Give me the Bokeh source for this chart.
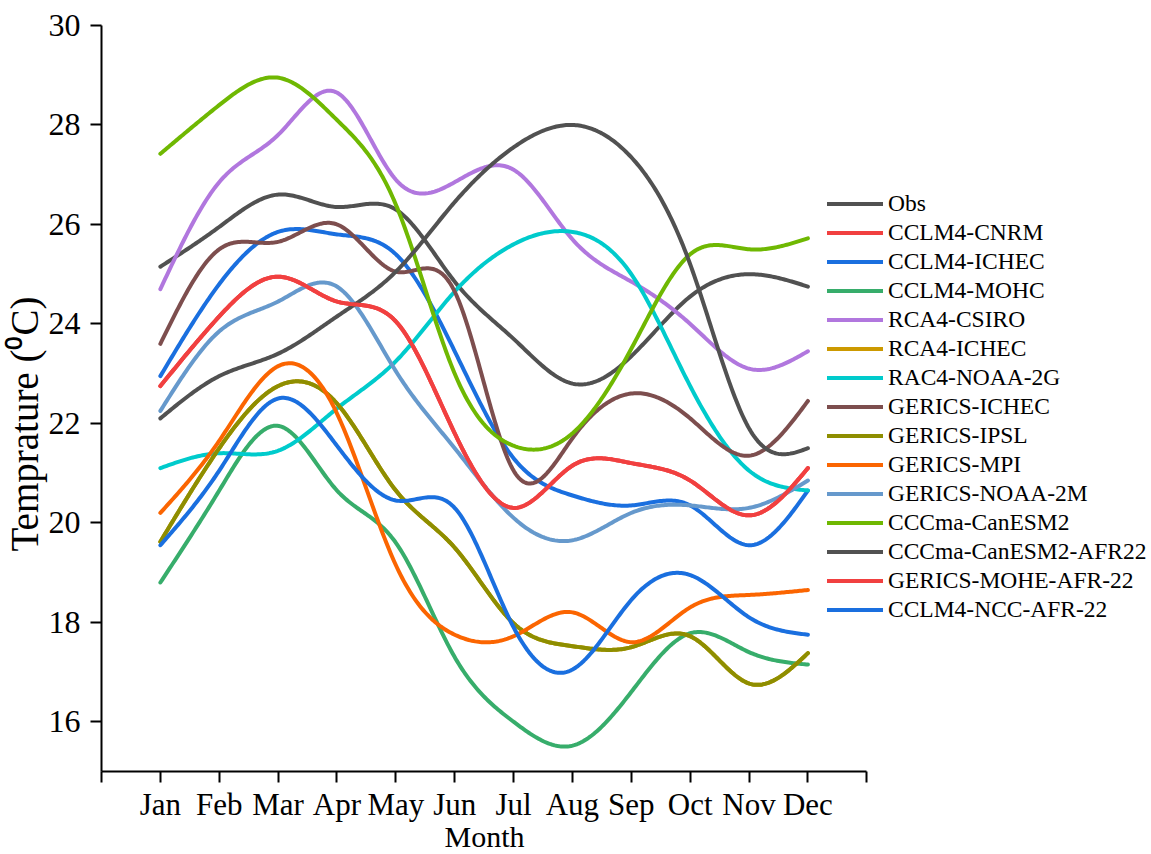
import numpy as np
from bokeh.plotting import figure
from bokeh.models import Legend, LegendItem, FixedTicker, Title
from bokeh.embed import file_html
from bokeh.resources import INLINE

# Monthly mean temperature (degC), observed and simulated by the RCMs
months = ["Jan", "Feb", "Mar", "Apr", "May", "Jun",
          "Jul", "Aug", "Sep", "Oct", "Nov", "Dec"]

obs = [25.15, 25.95, 26.6, 26.35, 26.3, 24.85, 23.7, 22.8, 23.35, 24.55, 25.0, 24.75]
cclm4_cnrm = [22.75, 24.15, 24.95, 24.45, 24.05, 21.8, 20.3, 21.15, 21.2, 20.85, 20.15, 21.1]
cclm4_ichec = [22.95, 24.8, 25.85, 25.8, 25.4, 23.45, 21.3, 20.55, 20.35, 20.35, 19.55, 20.65]
cclm4_mohc = [18.8, 20.65, 21.95, 20.65, 19.6, 17.3, 16.0, 15.52, 16.6, 17.78, 17.4, 17.15]
rca4_csiro = [24.7, 26.85, 27.8, 28.65, 26.9, 26.85, 27.1, 25.7, 24.85, 24.0, 23.1, 23.45]
rca4_ichec = [19.62, 21.5, 22.75, 22.4, 20.65, 19.5, 17.98, 17.52, 17.5, 17.72, 16.77, 17.38]
rac4_noaa_2g = [21.1, 21.4, 21.45, 22.3, 23.25, 24.65, 25.6, 25.85, 25.0, 22.75, 21.05, 20.65]
gerics_ichec = [23.6, 25.5, 25.65, 26.0, 25.05, 24.65, 21.05, 21.7, 22.6, 22.1, 21.35, 22.45]
gerics_ipsl = [19.62, 21.5, 22.75, 22.4, 20.65, 19.5, 17.98, 17.52, 17.5, 17.72, 16.77, 17.38]
gerics_mpi = [20.2, 21.65, 23.15, 22.2, 19.15, 17.75, 17.72, 18.2, 17.6, 18.3, 18.55, 18.65]
gerics_noaa_2m = [22.25, 23.85, 24.45, 24.75, 23.05, 21.5, 20.1, 19.65, 20.2, 20.35, 20.3, 20.85]
cccma_canesm2 = [27.42, 28.4, 28.95, 28.1, 26.4, 23.0, 21.55, 21.8, 23.5, 25.4, 25.5, 25.72]
cccma_canesm2_afr22 = [22.1, 22.95, 23.4, 24.15, 25.05, 26.45, 27.55, 28.0, 27.35, 25.2, 21.9, 21.5]
gerics_mohe_afr22 = [22.75, 24.15, 24.95, 24.45, 24.05, 21.8, 20.3, 21.15, 21.2, 20.85, 20.15, 21.1]
cclm4_ncc_afr22 = [19.55, 21.05, 22.5, 21.55, 20.45, 20.3, 17.9, 17.05, 18.45, 18.95, 18.1, 17.75]

series_names = ["Obs", "CCLM4-CNRM", "CCLM4-ICHEC", "CCLM4-MOHC", "RCA4-CSIRO",
                "RCA4-ICHEC", "RAC4-NOAA-2G", "GERICS-ICHEC", "GERICS-IPSL",
                "GERICS-MPI", "GERICS-NOAA-2M", "CCCma-CanESM2",
                "CCCma-CanESM2-AFR22", "GERICS-MOHE-AFR-22", "CCLM4-NCC-AFR-22"]
series_values = [obs, cclm4_cnrm, cclm4_ichec, cclm4_mohc, rca4_csiro,
                 rca4_ichec, rac4_noaa_2g, gerics_ichec, gerics_ipsl,
                 gerics_mpi, gerics_noaa_2m, cccma_canesm2,
                 cccma_canesm2_afr22, gerics_mohe_afr22, cclm4_ncc_afr22]
series_colors = ["#515151", "#F14040", "#1A6FDF", "#37AD6B", "#B177DE",
                 "#CC9900", "#00CBCC", "#7D4E4E", "#8E8E00", "#FB6501",
                 "#6699CC", "#6FB802", "#515151", "#F14040", "#1A6FDF"]


def natural_spline(xk, yk, n=400):
    """Natural cubic spline through the knots, evaluated on a fine grid."""
    xk = np.asarray(xk, float)
    yk = np.asarray(yk, float)
    m = len(xk)
    h = np.diff(xk)
    A = np.zeros((m, m))
    r = np.zeros(m)
    A[0, 0] = A[-1, -1] = 1.0
    for i in range(1, m - 1):
        A[i, i - 1] = h[i - 1]
        A[i, i] = 2 * (h[i - 1] + h[i])
        A[i, i + 1] = h[i]
        r[i] = 6 * ((yk[i + 1] - yk[i]) / h[i] - (yk[i] - yk[i - 1]) / h[i - 1])
    M = np.linalg.solve(A, r)
    xs = np.linspace(xk[0], xk[-1], n)
    idx = np.clip(np.searchsorted(xk, xs) - 1, 0, m - 2)
    x0, x1 = xk[idx], xk[idx + 1]
    hh = x1 - x0
    a = (x1 - xs) / hh
    b = (xs - x0) / hh
    ys = (a * yk[idx] + b * yk[idx + 1]
          + ((a ** 3 - a) * M[idx] + (b ** 3 - b) * M[idx + 1]) * hh ** 2 / 6)
    return xs, ys


month_pos = list(range(1, 13))
FONT = "Liberation Serif"

# The plotting frame runs to the right edge so the legend can sit beside
# the curves; the x axis itself is bounded to months 0..13.
W, H = 1151, 854
LEFT, BOTTOM, TOP = 100, 83, 25
AXIS_END_PX = 866
x_end = 13 * (W - LEFT) / (AXIS_END_PX - LEFT)

p = figure(width=W, height=H, x_range=(0, x_end), y_range=(15, 30),
           output_backend="svg", toolbar_location=None,
           min_border_left=LEFT, min_border_right=0,
           min_border_top=TOP, min_border_bottom=BOTTOM)
p.outline_line_color = None
p.xgrid.visible = False
p.ygrid.visible = False
p.background_fill_color = "white"
p.border_fill_color = "white"

items = []
for name, vals, col in zip(series_names, series_values, series_colors):
    xs, ys = natural_spline(month_pos, vals)
    r = p.line(xs, ys, line_color=col, line_width=4, line_cap="round",
               line_join="round")
    items.append(LegendItem(label=name, renderers=[r]))

# axes
for ax in (p.xaxis[0], p.yaxis[0]):
    ax.axis_line_width = 2
    ax.axis_line_color = "black"
    ax.major_tick_line_width = 2
    ax.major_tick_line_color = "black"
    ax.major_tick_in = 0
    ax.major_tick_out = 11
    ax.minor_tick_line_color = None
    ax.major_label_text_font = FONT
    ax.major_label_text_color = "black"

p.xaxis.bounds = (0, 13)
p.xaxis.ticker = FixedTicker(ticks=list(range(0, 14)))
overrides = {0: "", 13: ""}
for i, m in enumerate(months, start=1):
    overrides[i] = m
p.xaxis.major_label_overrides = overrides
p.xaxis.major_label_text_font_size = "31px"
p.xaxis.major_label_standoff = 4

p.yaxis.ticker = FixedTicker(ticks=list(range(16, 31, 2)))
p.yaxis.major_label_text_font_size = "32px"
p.yaxis.major_label_standoff = 10

# axis titles, positioned along the bounded axes
x_title = Title(text="Month", align="left", offset=343,
                vertical_align="top", standoff=-10,
                text_font=FONT, text_font_size="30px",
                text_font_style="normal", text_color="black")
p.add_layout(x_title, "below")

y_title = Title(text="Temprature (\u2070C)", align="left", offset=220,
                vertical_align="bottom", standoff=0,
                text_font=FONT, text_font_size="39px",
                text_font_style="normal", text_color="black")
p.add_layout(y_title, "left")

legend = Legend(items=items, location=(726, 148),
                glyph_width=56, glyph_height=27, label_height=27,
                label_width=10, spacing=2, padding=0, margin=0,
                label_standoff=5,
                label_text_font=FONT, label_text_font_size="23.5px",
                label_text_color="black",
                border_line_color=None, background_fill_alpha=0)
p.add_layout(legend, "center")

open("out.html", "w").write(file_html(p, INLINE))
